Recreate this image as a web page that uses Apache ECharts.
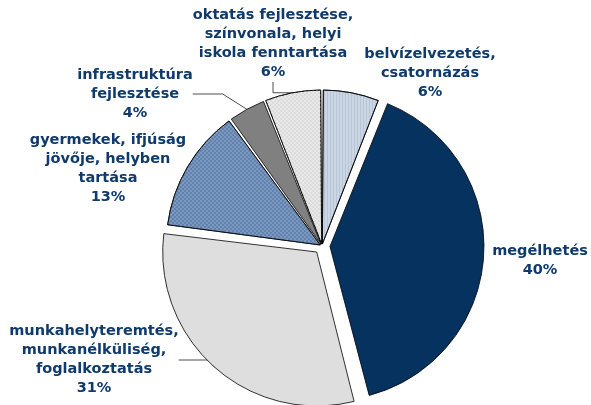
<!DOCTYPE html>
<html>
<head>
<meta charset="utf-8">
<script src="https://cdn.jsdelivr.net/npm/echarts@6/dist/echarts.min.js"></script>
<style>
  html, body { margin: 0; padding: 0; background: #fff; }
  #main { width: 591px; height: 405px; }
</style>
</head>
<body>
<div id="main"></div>
<script>
const categories = [
  "belvízelvezetés,\ncsatornázás",
  "megélhetés",
  "munkahelyteremtés,\nmunkanélküliség,\nfoglalkoztatás",
  "gyermekek, ifjúság\njövője, helyben\ntartása",
  "infrastruktúra\nfejlesztése",
  "oktatás fejlesztése,\nszínvonala, helyi\niskola fenntartása"
];
const values = [6, 40, 31, 13, 4, 6];

// styling kept apart from the data
const sliceColors = ["#cad6e3", "#05325f", "#dedede", "#7b98be", "#808080", "#e8e8e8"];
const checker = { symbol: "rect", symbolSize: 1, dashArrayX: [[2, 2], [0, 2, 2, 0]], dashArrayY: [2, 0], rotation: 0 };
const sliceDecals = [
  { symbol: "rect", symbolSize: 1, dashArrayX: [1, 2], dashArrayY: [1, 0], rotation: 0, color: "rgba(140,160,190,0.3)" },
  null,
  null,
  Object.assign({ color: "#6282ad" }, checker),
  null,
  Object.assign({ color: "#dcdcdc" }, checker)
];
const explode = [2, 8, 8, 2, 2, 2];
const withLeader = [false, false, true, false, true, true];
// label block centres (px)
const labelPos = [
  [430, 73], [540, 261], [94, 360], [108, 169], [135, 94], [273, 44]
];
const pieCenter = [322, 246];

const chartDom = document.getElementById("main");
const myChart = echarts.init(chartDom);

const total = values.reduce((a, b) => a + b, 0);

// one series per slice so every slice can be pulled out on its own
let acc = 0;
const series = categories.map((label, k) => {
  const mid = ((acc + values[k] / 2) / total) * 2 * Math.PI;
  acc += values[k];
  const cx = pieCenter[0] + Math.sin(mid) * explode[k];
  const cy = pieCenter[1] - Math.cos(mid) * explode[k];
  return {
    type: "pie",
    center: [cx, cy],
    radius: 154,
    startAngle: 90,
    clockwise: true,
    padAngle: 0.7,
    avoidLabelOverlap: false,
    percentPrecision: 0,
    emphasis: { disabled: true },
    label: {
      formatter: "{b}\n{d}%",
      color: "#0f3a6b",
      fontFamily: "DejaVu Sans",
      fontWeight: "bold",
      fontSize: 14.5,
      lineHeight: 19,
      align: "center",
      overflow: "none"
    },
    labelLine: {
      lineStyle: { color: "#222", width: 0.8 },
      smooth: false
    },
    labelLayout: (params) => {
      const p = labelPos[params.dataIndex];
      return { x: p[0], y: p[1], align: "center", verticalAlign: "middle", hideOverlap: false };
    },
    data: categories.map((name, i) => {
      const style = {
        color: sliceColors[i],
        borderColor: "#000",
        borderWidth: 0.8,
        opacity: i === k ? 1 : 0
      };
      if (sliceDecals[i]) style.decal = sliceDecals[i];
      return {
        name: name,
        value: values[i],
        itemStyle: style,
        label: { show: i === k },
        labelLine: { show: i === k && withLeader[i] }
      };
    })
  };
});

const option = {
  animation: false,
  backgroundColor: "#fff",
  series: series
};

option && myChart.setOption(option);
</script>
</body>
</html>
